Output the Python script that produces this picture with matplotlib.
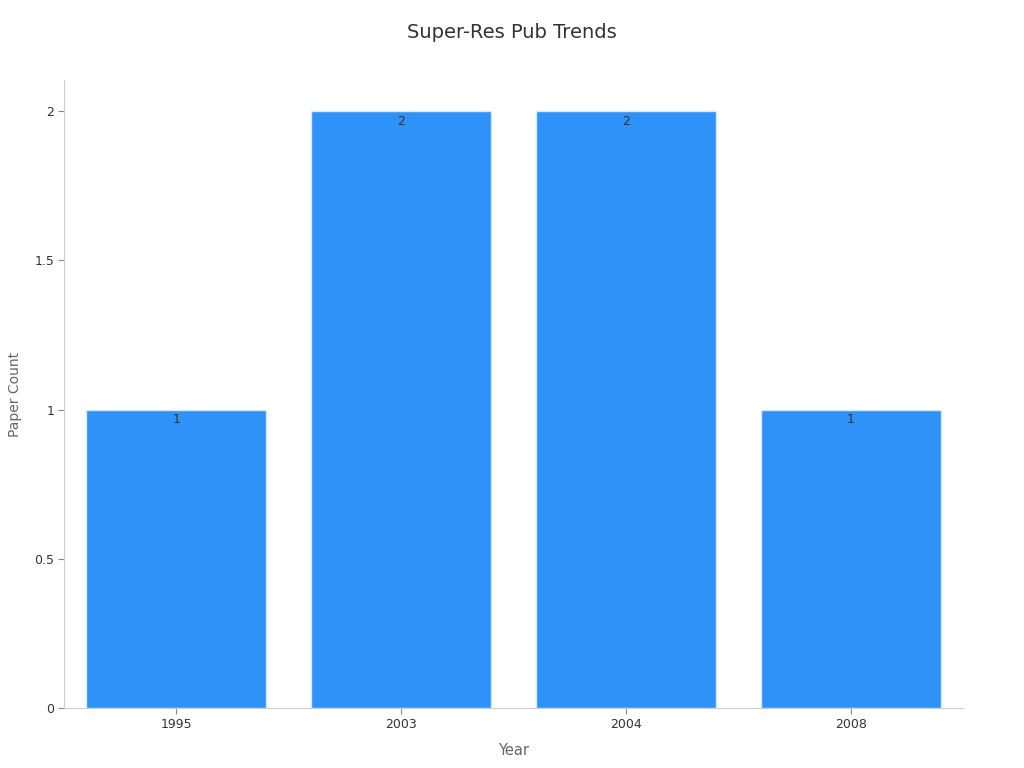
import matplotlib
matplotlib.use("Agg")
import matplotlib.pyplot as plt

years = ["1995", "2003", "2004", "2008"]
counts = [1, 2, 2, 1]

fig = plt.figure(figsize=(10.24, 7.68), dpi=100)
ax = fig.add_axes([0.0625, 0.078, 0.878, 0.818])

x = range(len(years))
bars = ax.bar(x, counts, width=0.8, color="#2F92F9", edgecolor="#d6e9fd", linewidth=1)
for b, v in zip(bars, counts):
    ax.text(b.get_x() + b.get_width() / 2, v - 0.012, str(v), ha="center", va="top",
            fontsize=9, color="#333333")

ax.set_xlim(-0.5, 3.5)
ax.set_ylim(0, 2.105)
ax.set_xticks(list(x))
ax.set_xticklabels(years)
ax.set_yticks([0, 0.5, 1, 1.5, 2])
ax.set_yticklabels(["0", "0.5", "1", "1.5", "2"])
ax.tick_params(labelsize=9, colors="#333333", length=4, pad=3)
ax.tick_params(axis="both", color="#888888")

for s in ["top", "right"]:
    ax.spines[s].set_visible(False)
for s in ["left", "bottom"]:
    ax.spines[s].set_color("#cccccc")

ax.set_xlabel("Year", fontsize=10.5, color="#666666", labelpad=9)
ax.set_ylabel("Paper Count", fontsize=10, color="#666666", labelpad=9)
fig.suptitle("Super-Res Pub Trends", fontsize=14, color="#333333", y=0.97)

fig.savefig("out.png", dpi=100)
